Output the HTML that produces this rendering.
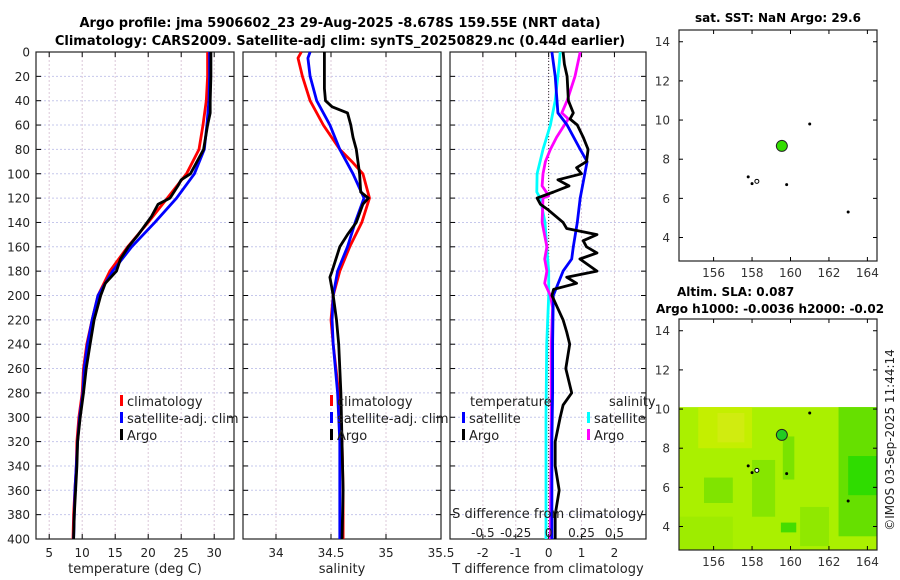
<!DOCTYPE html>
<html><head><meta charset="utf-8">
<style>
html,body{margin:0;padding:0;background:#fff;}
svg{display:block;font-family:"DejaVu Sans","Liberation Sans",sans-serif;}
</style></head>
<body>
<svg id="fig" width="900" height="580" viewBox="0 0 900 580" xmlns="http://www.w3.org/2000/svg">
<text x="340" y="27" font-size="13" font-weight="bold" text-anchor="middle">Argo profile: jma 5906602_23 29-Aug-2025 -8.678S 159.55E (NRT data)</text>
<text x="340" y="45" font-size="13" font-weight="bold" text-anchor="middle">Climatology: CARS2009. Satellite-adj clim: synTS_20250829.nc (0.44d earlier)</text>
<text x="778" y="22" font-size="12" font-weight="bold" text-anchor="middle">sat. SST: NaN Argo: 29.6</text>
<text x="677" y="296" font-size="12" font-weight="bold">Altim. SLA: 0.087</text>
<text x="770" y="313" font-size="12" font-weight="bold" text-anchor="middle">Argo h1000: -0.0036 h2000: -0.02</text>
<text transform="translate(894,440) rotate(-90)" font-size="12" text-anchor="middle" fill="#222">©IMOS 03-Sep-2025 11:44:14</text>
<g id="g"></g>
</svg>
<script>
// ---- data ----
const depthTicks = [0,20,40,60,80,100,120,140,160,180,200,220,240,260,280,300,320,340,360,380,400];
const tempTicks = [5,10,15,20,25,30];
const salTicks = [34,34.5,35,35.5];
const tdiffTicks = [-2,-1,0,1,2];
const sdiffTicks = [-0.5,-0.25,0,0.25,0.5];
const tClimDepth = [0,20,40,60,80,100,120,140,160,180,200,220,240,260,280,300,320,340,360,380,400];
const tClim      = [29.0,29.0,28.8,28.3,27.7,25.8,22.9,20.0,16.9,14.2,12.4,11.5,10.7,10.2,10.0,9.5,9.2,9.1,8.9,8.7,8.6];
const tSat       = [29.3,29.3,29.2,28.9,28.5,27.0,24.3,21.0,17.5,14.6,12.4,11.5,10.8,10.3,10.1,9.6,9.3,9.1,8.9,8.8,8.7];
const tArgoDepth = [0,20,40,50,60,80,100,105,110,120,125,135,150,160,170,180,190,200,220,240,260,280,300,320,340,360,380,400];
const tArgo      = [29.5,29.5,29.4,29.4,29.0,28.4,26.4,25.0,24.5,23.3,21.5,20.5,18.5,17.0,15.8,15.2,13.5,12.8,11.8,11.2,10.6,10.2,9.7,9.3,9.2,9.0,8.8,8.7];
const sClimDepth = [0,5,20,40,60,80,90,100,120,140,160,180,200,220,240,280,320,360,400];
const sClim      = [34.23,34.20,34.24,34.31,34.43,34.58,34.69,34.79,34.85,34.78,34.67,34.58,34.52,34.50,34.52,34.57,34.60,34.61,34.61];
const sSat       = [34.31,34.29,34.31,34.37,34.49,34.58,34.64,34.70,34.80,34.72,34.65,34.56,34.52,34.51,34.52,34.56,34.58,34.58,34.58];
const sArgoDepth = [0,20,30,40,45,50,60,70,80,100,115,120,125,140,150,160,180,185,200,220,240,280,320,360,400];
const sArgo      = [34.44,34.44,34.44,34.45,34.51,34.65,34.68,34.70,34.73,34.76,34.77,34.84,34.79,34.73,34.65,34.58,34.51,34.49,34.52,34.55,34.57,34.59,34.60,34.61,34.60];
const dTDepth = [0,20,50,60,80,90,100,120,140,160,170,180,200,240,280,320,360,400];
const dTSat   = [0.10,0.20,0.28,0.56,0.96,1.17,1.10,0.96,0.87,0.75,0.70,0.44,0.14,0.12,0.12,0.10,0.10,0.10];
const dTArgoDepth = [0,10,20,40,50,55,60,70,80,90,95,100,105,110,115,120,125,130,140,145,150,155,160,165,170,180,185,190,195,200,210,220,230,240,260,280,290,300,320,340,360,380,400];
const dTArgo      = [0.44,0.48,0.56,0.60,0.75,0.65,0.87,1.05,1.20,1.15,0.85,1.00,0.28,0.62,0.15,-0.35,-0.25,0.0,0.44,0.55,1.47,1.05,1.15,1.47,0.95,1.47,0.55,0.85,0.15,0.10,0.27,0.44,0.55,0.64,0.52,0.70,0.44,0.35,0.20,0.20,0.32,0.20,0.20];
const dSDepth = [0,10,40,60,80,100,115,120,140,160,180,200,240,300,400];
const dSSat   = [0.088,0.080,0.050,0.013,-0.043,-0.088,-0.090,-0.065,-0.028,-0.015,0.0,0.0,-0.015,-0.02,-0.02];
const dSArgoDepth = [0,20,40,50,55,60,70,80,90,100,110,118,120,140,160,170,180,190,200,210,240,300,400];
const dSArgo      = [0.24,0.20,0.14,0.10,0.15,0.12,0.06,0.013,-0.025,-0.043,-0.05,0.0,-0.043,-0.05,-0.013,-0.03,-0.013,-0.03,0.013,0.03,0.02,0.02,0.013];
const lonTicks = [156,158,160,162,164];
const latTicks = [4,6,8,10,12,14];
const floatLon = [159.55];
const floatLat = [8.678];
const markLon = [161.0,158.25,157.8,158.0,159.8,163.0];
const markLat = [9.8,6.87,7.1,6.75,6.7,5.3];

// ---- drawing ----
const NS="http://www.w3.org/2000/svg";
const G=document.getElementById('g');
function mk(tag,attrs,parent){const e=document.createElementNS(NS,tag);for(const k in attrs)e.setAttribute(k,attrs[k]);(parent||G).appendChild(e);return e;}
const Y0=52,Y1=539;
const yD=d=>Y0+(d/400)*(Y1-Y0);
function lin(d0,d1,p0,p1){return v=>p0+(v-d0)/(d1-d0)*(p1-p0);}
const xT=lin(3,33,36,234);
const xS=lin(33.7,35.5,243,441);
const xDT=lin(-3,2.96,450,646);
const xDS=v=>xDT(v*4);

function panel(name,x0,x1,xs,xticks,yLabels){
  const g=mk('g',{});
  
  
  depthTicks.forEach(d=>{const y=yD(d);
    const l=mk('line',{x1:x0,x2:x1,y1:y,y2:y,stroke:'#c6c8ec','stroke-width':1,'stroke-dasharray':'2,2'},g);
    
    mk('line',{x1:x0,x2:x0+5,y1:y,y2:y,stroke:'#000'},g);
    mk('line',{x1:x1-5,x2:x1,y1:y,y2:y,stroke:'#000'},g);
    if(yLabels){const t=mk('text',{x:x0-6,y:y+4.5,'font-size':12,'text-anchor':'end',fill:'#222'},g);t.textContent=d;
      }
  });
  xticks.forEach(v=>{const x=xs(v);
    const l=mk('line',{x1:x,x2:x,y1:Y0,y2:Y1,stroke:'#dcc8d8','stroke-width':1,'stroke-dasharray':'2,2'},g);
    
    mk('line',{x1:x,x2:x,y1:Y1,y2:Y1-5,stroke:'#000'},g);
    mk('line',{x1:x,x2:x,y1:Y0,y2:Y0+5,stroke:'#000'},g);
    const t=mk('text',{x:x,y:557,'font-size':12,'text-anchor':'middle',fill:'#222'},g);t.textContent=v;
    
  });
  mk('rect',{x:x0,y:Y0,width:x1-x0,height:Y1-Y0,fill:'none',stroke:'#222','stroke-width':1.2},g);
  return g;
}
function series(name,xs,vals,depths,color,w){
  const pts=vals.map((v,i)=>xs(v).toFixed(1)+','+yD(depths[i]).toFixed(1)).join(' ');
  const p=mk('polyline',{points:pts,fill:'none',stroke:color,'stroke-width':w||2.8,'stroke-linejoin':'round'});
  
  
}
function text(str,x,y,size,name,anchor){const t=mk('text',{x:x,y:y,'font-size':size,'text-anchor':anchor||'start',fill:'#222'});t.textContent=str;
  return t;}
function legend(x,y,color,label,name){
  const r=mk('rect',{x:x,y:y-11,width:3,height:11,fill:color});
  
  text(label,x+7,y,13,name);
}

panel('temperature-panel',36,234,xT,tempTicks,true);
series('temp-climatology-line',xT,tClim,tClimDepth,'#ff0000');
series('temp-satellite-line',xT,tSat,tClimDepth,'#0000ff');
series('temp-argo-line',xT,tArgo,tArgoDepth,'#000');
text('temperature (deg C)',135,573,13,'x-axis-title-temperature','middle');
legend(120,406,'#ff0000','climatology','legend-climatology');
legend(120,423,'#0000ff','satellite-adj. clim','legend-satellite');
legend(120,440,'#000','Argo','legend-argo');

panel('salinity-panel',243,441,xS,salTicks,false);
series('sal-climatology-line',xS,sClim,sClimDepth,'#ff0000');
series('sal-satellite-line',xS,sSat,sClimDepth,'#0000ff');
series('sal-argo-line',xS,sArgo,sArgoDepth,'#000');
text('salinity',342,573,13,'x-axis-title-salinity','middle');
legend(330,406,'#ff0000','climatology','legend-s-climatology');
legend(330,423,'#0000ff','satellite-adj. clim','legend-s-satellite');
legend(330,440,'#000','Argo','legend-s-argo');

panel('difference-panel',450,646,xDT,tdiffTicks,false);
const zl=mk('line',{x1:xDT(0),x2:xDT(0),y1:Y0,y2:Y1,stroke:'#333','stroke-width':1,'stroke-dasharray':'1,2'});

series('sdiff-satellite-line',xDS,dSSat,dSDepth,'#00ffff');
series('sdiff-argo-line',xDS,dSArgo,dSArgoDepth,'#ff00ff');
series('tdiff-satellite-line',xDT,dTSat,dTDepth,'#0000ff');
series('tdiff-argo-line',xDT,dTArgo,dTArgoDepth,'#000');
text('T difference from climatology',548,573,13,'x-axis-title-tdiff','middle');
text('S difference from climatology',548,518,13,'s-axis-title','middle');
sdiffTicks.forEach(v=>text(String(v),xDS(v),537,12,'s-tick-label','middle'));
text('temperature',470,406,13,'legend-title-temperature');
legend(462,423,'#0000ff','satellite','legend-tdiff-satellite');
legend(462,440,'#000','Argo','legend-tdiff-argo');
text('salinity',609,406,13,'legend-title-salinity');
legend(587,423,'#00ffff','satellite','legend-sdiff-satellite');
legend(587,440,'#ff00ff','Argo','legend-sdiff-argo');

// ---- maps ----
const xL=lin(154.2,164.5,679,877);
function mapPanel(name,top,bottom,filled){
  const yL=lin(14.6,2.8,top,bottom);
  const g=mk('g',{});
  
  if(filled){
    const y10=yL(10.1);
    mk('rect',{x:679,y:y10,width:198,height:bottom-y10,fill:'#aaf000'},g);
    const patches=[[155.2,10.1,158,8.0,'#c4ef00'],[156.2,9.8,157.6,8.3,'#d0ec10'],[155.5,6.5,157,5.2,'#80e400'],[158,7.4,159.2,4.5,'#86e600'],[159.6,8.6,160.2,6.4,'#7ae300'],[162.5,10.1,164.5,3.5,'#66e000'],[163,7.6,164.5,5.6,'#2fdc00'],[160.5,5,162,3,'#90e800'],[154.2,4.5,157,2.8,'#9eec00'],[159.5,4.2,160.3,3.7,'#44dd00']];
    patches.forEach(p=>{const r=mk('rect',{x:xL(p[0]),y:yL(p[1]),width:xL(p[2])-xL(p[0]),height:yL(p[3])-yL(p[1]),fill:p[4]},g);
      });
  }
  mk('rect',{x:679,y:top,width:198,height:bottom-top,fill:'none',stroke:'#222','stroke-width':1.2},g);
  lonTicks.forEach(v=>{const x=xL(v);
    mk('line',{x1:x,x2:x,y1:bottom,y2:bottom-4,stroke:'#000'},g);
    mk('line',{x1:x,x2:x,y1:top,y2:top+4,stroke:'#000'},g);
    const t=mk('text',{x:x,y:bottom+16,'font-size':12,'text-anchor':'middle',fill:'#333'},g);t.textContent=v;
    });
  latTicks.forEach(v=>{const y=yL(v);
    mk('line',{x1:679,x2:683,y1:y,y2:y,stroke:'#000'},g);
    mk('line',{x1:873,x2:877,y1:y,y2:y,stroke:'#000'},g);
    const t=mk('text',{x:670,y:y+4.5,'font-size':12,'text-anchor':'end',fill:'#333'},g);t.textContent=v;
    });
  markLon.forEach((lo,i)=>{const c=mk('circle',{cx:xL(lo),cy:yL(markLat[i]),r:i==1?2:1,fill:i==1?'#fff':'#000',stroke:'#000','stroke-width':1},g);
    });
  floatLon.forEach((lo,i)=>{const c=mk('circle',{cx:xL(lo),cy:yL(floatLat[i]),r:5.5,fill:filled?'#22cc22':'#33dd00',stroke:'#222','stroke-width':1},g);
    });
}
mapPanel('sst-map',30,261,false);
mapPanel('sla-map',319,550,true);
</script>
</body></html>
